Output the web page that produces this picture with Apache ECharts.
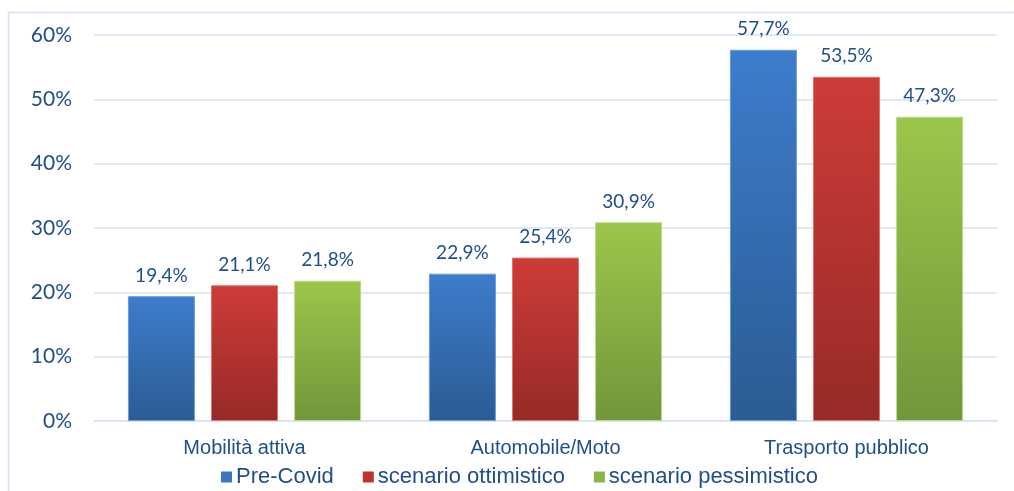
<!DOCTYPE html>
<html>
<head>
<meta charset="utf-8">
<script src="https://cdn.jsdelivr.net/npm/echarts@6/dist/echarts.min.js"></script>
<style>
  html, body { margin: 0; padding: 0; background: #ffffff; }
  #chart { width: 1014px; height: 491px; }
</style>
</head>
<body>
<div id="chart"></div>
<script>
// Modal share by mode of transport: pre-Covid vs. two post-Covid scenarios
const categories = ['Mobilità attiva', 'Automobile/Moto', 'Trasporto pubblico'];
const seriesNames = ['Pre-Covid', 'scenario ottimistico', 'scenario pessimistico'];
const preCovid = [19.4, 22.9, 57.7];
const ottimistico = [21.1, 25.4, 53.5];
const pessimistico = [21.8, 30.9, 47.3];
const yTicks = [0, 10, 20, 30, 40, 50, 60];

const textColor = '#1f4e8c';
const gridColor = '#d5e3f3';

function grad(top, bottom) {
  return new echarts.graphic.LinearGradient(0, 0, 0, 1, [
    { offset: 0, color: top },
    { offset: 1, color: bottom }
  ]);
}

const palette = [
  { top: '#3d7dcc', bottom: '#2b5b93', border: '#6a9bd8', legend: '#3a76c2' },
  { top: '#cd3c38', bottom: '#972a27', border: '#de7370', legend: '#c0322f' },
  { top: '#9cc64b', bottom: '#72963a', border: '#bcd98a', legend: '#8cb545' }
];

const values = [preCovid, ottimistico, pessimistico];

const fmt = v => v.toFixed(1).replace('.', ',') + '%';

const series = seriesNames.map((name, i) => ({
  name: name,
  type: 'bar',
  data: values[i],
  barWidth: 67,
  barGap: '24%',
  itemStyle: {
    color: grad(palette[i].top, palette[i].bottom),
    borderColor: palette[i].border,
    borderWidth: 1
  },
  label: {
    show: true,
    position: 'top',
    distance: 11,
    color: textColor,
    fontFamily: 'Lato',
    fontSize: 19,
    formatter: p => fmt(p.value)
  }
}));

const chart = echarts.init(document.getElementById('chart'), null, { renderer: 'canvas' });
chart.setOption({
  animation: false,
  backgroundColor: '#ffffff',
  graphic: [{
    type: 'rect',
    shape: { x: 8.5, y: 12.5, width: 1200, height: 700 },
    style: { fill: 'none', stroke: '#d3e2f3', lineWidth: 1.5 },
    silent: true,
    z: -1
  }],
  grid: { left: 94, right: 17, top: 35, bottom: 70 },
  legend: {
    data: seriesNames.map((name, i) => ({
      name: name,
      itemStyle: { color: palette[i].legend, borderWidth: 0 }
    })),
    left: 216,
    top: 461,
    itemWidth: 11,
    itemHeight: 11,
    itemGap: 29,
    icon: 'rect',
    textStyle: {
      color: textColor,
      fontFamily: 'Liberation Sans, Arial, sans-serif',
      fontSize: 22,
      padding: [0, 0, 0, -1]
    }
  },
  xAxis: {
    type: 'category',
    data: categories,
    axisLine: { lineStyle: { color: gridColor, width: 1.5 } },
    axisTick: { show: false },
    axisLabel: {
      color: textColor,
      fontFamily: 'Liberation Sans, Arial, sans-serif',
      fontSize: 20,
      margin: 17
    }
  },
  yAxis: {
    type: 'value',
    min: yTicks[0],
    max: yTicks[yTicks.length - 1],
    interval: 10,
    axisLine: { show: false },
    axisTick: { show: false },
    splitLine: { lineStyle: { color: gridColor, width: 1.5 } },
    axisLabel: {
      color: textColor,
      fontFamily: 'Lato',
      fontSize: 21,
      margin: 22,
      formatter: v => v + '%'
    }
  },
  series: series
});
</script>
</body>
</html>
